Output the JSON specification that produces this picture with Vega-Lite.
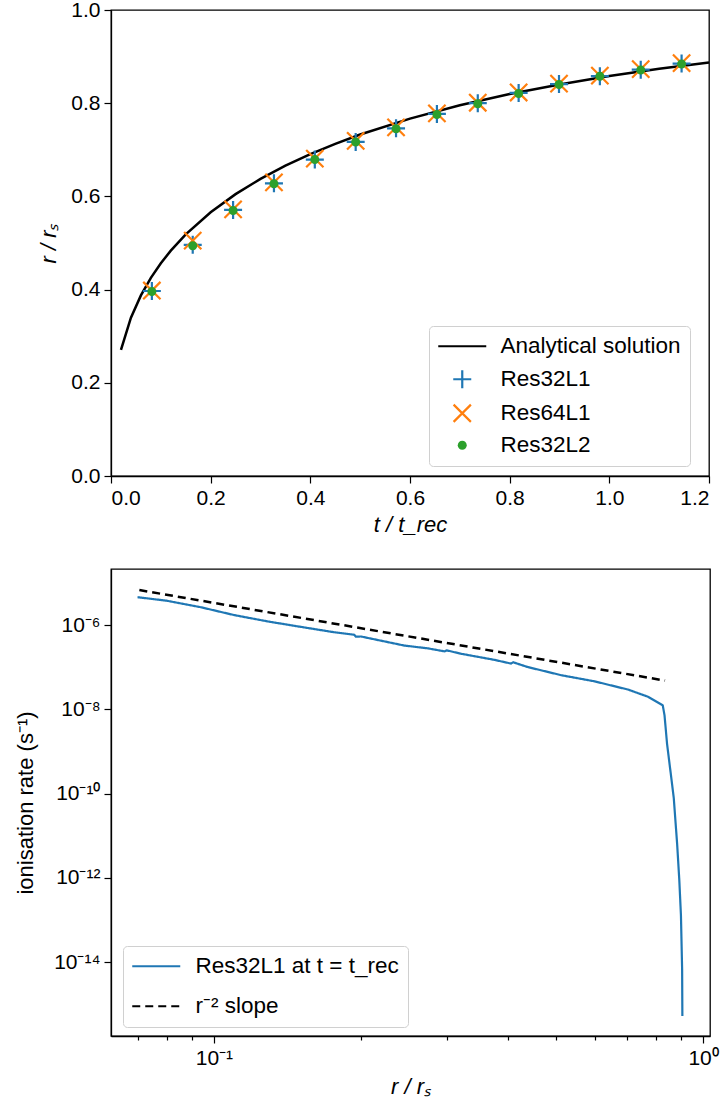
{
  "$schema": "https://vega.github.io/schema/vega-lite/v6.json",
  "padding": {"left": 13, "top": -2, "right": 5, "bottom": 5},
  "background": "white",
  "bounds": "flush",
  "spacing": 93,
  "resolve": {
    "scale": {"stroke": "independent", "strokeDash": "independent", "fill": "independent", "shape": "independent"},
    "legend": {"stroke": "independent", "strokeDash": "independent", "fill": "independent", "shape": "independent"}
  },
  "config": {
    "font": "Liberation Sans",
    "view": {"stroke": "#000000", "strokeWidth": 1.3},
    "axis": {
      "grid": false,
      "domainColor": "#000000",
      "domainWidth": 1.3,
      "tickColor": "#000000",
      "tickWidth": 1.2,
      "tickSize": 7,
      "labelColor": "#000000",
      "labelFont": "Liberation Sans",
      "labelFontSize": 21,
      "labelPadding": 4,
      "titleColor": "#000000",
      "titleFont": "Liberation Sans",
      "titleFontSize": 22,
      "titleFontWeight": "normal"
    },
    "legend": {
      "labelFont": "Liberation Sans",
      "labelFontSize": 22.5,
      "labelColor": "#000000",
      "labelLimit": 400
    }
  },
  "datasets": {
    "analytic": [
      {"t": 0.02, "r": 0.2705, "series": "Analytical solution"},
      {"t": 0.04, "r": 0.3397, "series": "Analytical solution"},
      {"t": 0.06, "r": 0.3876, "series": "Analytical solution"},
      {"t": 0.08, "r": 0.4252, "series": "Analytical solution"},
      {"t": 0.10, "r": 0.4566, "series": "Analytical solution"},
      {"t": 0.12, "r": 0.4836, "series": "Analytical solution"},
      {"t": 0.15, "r": 0.5184, "series": "Analytical solution"},
      {"t": 0.20, "r": 0.5659, "series": "Analytical solution"},
      {"t": 0.25, "r": 0.6048, "series": "Analytical solution"},
      {"t": 0.30, "r": 0.6376, "series": "Analytical solution"},
      {"t": 0.35, "r": 0.6659, "series": "Analytical solution"},
      {"t": 0.40, "r": 0.6908, "series": "Analytical solution"},
      {"t": 0.45, "r": 0.7129, "series": "Analytical solution"},
      {"t": 0.50, "r": 0.7328, "series": "Analytical solution"},
      {"t": 0.60, "r": 0.7670, "series": "Analytical solution"},
      {"t": 0.70, "r": 0.7955, "series": "Analytical solution"},
      {"t": 0.80, "r": 0.8197, "series": "Analytical solution"},
      {"t": 0.90, "r": 0.8403, "series": "Analytical solution"},
      {"t": 1.00, "r": 0.8582, "series": "Analytical solution"},
      {"t": 1.10, "r": 0.8738, "series": "Analytical solution"},
      {"t": 1.20, "r": 0.8875, "series": "Analytical solution"}
    ],
    "sims": [
      {"t": 0.082, "r": 0.397, "series": "Res32L1"},
      {"t": 0.164, "r": 0.496, "series": "Res32L1"},
      {"t": 0.245, "r": 0.571, "series": "Res32L1"},
      {"t": 0.327, "r": 0.628, "series": "Res32L1"},
      {"t": 0.409, "r": 0.679, "series": "Res32L1"},
      {"t": 0.491, "r": 0.717, "series": "Res32L1"},
      {"t": 0.572, "r": 0.746, "series": "Res32L1"},
      {"t": 0.654, "r": 0.777, "series": "Res32L1"},
      {"t": 0.736, "r": 0.800, "series": "Res32L1"},
      {"t": 0.818, "r": 0.822, "series": "Res32L1"},
      {"t": 0.899, "r": 0.841, "series": "Res32L1"},
      {"t": 0.981, "r": 0.858, "series": "Res32L1"},
      {"t": 1.063, "r": 0.872, "series": "Res32L1"},
      {"t": 1.145, "r": 0.885, "series": "Res32L1"},
      {"t": 0.082, "r": 0.398, "series": "Res64L1"},
      {"t": 0.164, "r": 0.505, "series": "Res64L1"},
      {"t": 0.245, "r": 0.572, "series": "Res64L1"},
      {"t": 0.327, "r": 0.630, "series": "Res64L1"},
      {"t": 0.409, "r": 0.681, "series": "Res64L1"},
      {"t": 0.491, "r": 0.719, "series": "Res64L1"},
      {"t": 0.572, "r": 0.748, "series": "Res64L1"},
      {"t": 0.654, "r": 0.778, "series": "Res64L1"},
      {"t": 0.736, "r": 0.801, "series": "Res64L1"},
      {"t": 0.818, "r": 0.823, "series": "Res64L1"},
      {"t": 0.899, "r": 0.842, "series": "Res64L1"},
      {"t": 0.981, "r": 0.859, "series": "Res64L1"},
      {"t": 1.063, "r": 0.873, "series": "Res64L1"},
      {"t": 1.145, "r": 0.886, "series": "Res64L1"},
      {"t": 0.082, "r": 0.396, "series": "Res32L2"},
      {"t": 0.164, "r": 0.494, "series": "Res32L2"},
      {"t": 0.245, "r": 0.570, "series": "Res32L2"},
      {"t": 0.327, "r": 0.627, "series": "Res32L2"},
      {"t": 0.409, "r": 0.679, "series": "Res32L2"},
      {"t": 0.491, "r": 0.717, "series": "Res32L2"},
      {"t": 0.572, "r": 0.745, "series": "Res32L2"},
      {"t": 0.654, "r": 0.776, "series": "Res32L2"},
      {"t": 0.736, "r": 0.799, "series": "Res32L2"},
      {"t": 0.818, "r": 0.821, "series": "Res32L2"},
      {"t": 0.899, "r": 0.840, "series": "Res32L2"},
      {"t": 0.981, "r": 0.858, "series": "Res32L2"},
      {"t": 1.063, "r": 0.871, "series": "Res32L2"},
      {"t": 1.145, "r": 0.884, "series": "Res32L2"}
    ],
    "rate": [
      {"r": 0.0698, "rate": 4.6e-6, "series": "Res32L1 at t = t_rec"},
      {"r": 0.080, "rate": 3.8e-6, "series": "Res32L1 at t = t_rec"},
      {"r": 0.094, "rate": 2.66e-6, "series": "Res32L1 at t = t_rec"},
      {"r": 0.110, "rate": 1.73e-6, "series": "Res32L1 at t = t_rec"},
      {"r": 0.129, "rate": 1.22e-6, "series": "Res32L1 at t = t_rec"},
      {"r": 0.1507, "rate": 9.06e-7, "series": "Res32L1 at t = t_rec"},
      {"r": 0.176, "rate": 6.78e-7, "series": "Res32L1 at t = t_rec"},
      {"r": 0.1936, "rate": 5.9e-7, "series": "Res32L1 at t = t_rec"},
      {"r": 0.1950, "rate": 5.35e-7, "series": "Res32L1 at t = t_rec"},
      {"r": 0.1999, "rate": 5.36e-7, "series": "Res32L1 at t = t_rec"},
      {"r": 0.245, "rate": 3.27e-7, "series": "Res32L1 at t = t_rec"},
      {"r": 0.2735, "rate": 2.81e-7, "series": "Res32L1 at t = t_rec"},
      {"r": 0.296, "rate": 2.38e-7, "series": "Res32L1 at t = t_rec"},
      {"r": 0.299, "rate": 2.52e-7, "series": "Res32L1 at t = t_rec"},
      {"r": 0.320, "rate": 2.09e-7, "series": "Res32L1 at t = t_rec"},
      {"r": 0.374, "rate": 1.50e-7, "series": "Res32L1 at t = t_rec"},
      {"r": 0.405, "rate": 1.22e-7, "series": "Res32L1 at t = t_rec"},
      {"r": 0.409, "rate": 1.31e-7, "series": "Res32L1 at t = t_rec"},
      {"r": 0.438, "rate": 1.01e-7, "series": "Res32L1 at t = t_rec"},
      {"r": 0.513, "rate": 6.46e-8, "series": "Res32L1 at t = t_rec"},
      {"r": 0.600, "rate": 4.62e-8, "series": "Res32L1 at t = t_rec"},
      {"r": 0.702, "rate": 2.95e-8, "series": "Res32L1 at t = t_rec"},
      {"r": 0.771, "rate": 2.0e-8, "series": "Res32L1 at t = t_rec"},
      {"r": 0.827, "rate": 1.245e-8, "series": "Res32L1 at t = t_rec"},
      {"r": 0.834, "rate": 7.2e-9, "series": "Res32L1 at t = t_rec"},
      {"r": 0.844, "rate": 1.5e-9, "series": "Res32L1 at t = t_rec"},
      {"r": 0.853, "rate": 5.6e-10, "series": "Res32L1 at t = t_rec"},
      {"r": 0.871, "rate": 7.9e-11, "series": "Res32L1 at t = t_rec"},
      {"r": 0.885, "rate": 6.3e-12, "series": "Res32L1 at t = t_rec"},
      {"r": 0.894, "rate": 8.9e-13, "series": "Res32L1 at t = t_rec"},
      {"r": 0.901, "rate": 1.26e-13, "series": "Res32L1 at t = t_rec"},
      {"r": 0.906, "rate": 6.6e-15, "series": "Res32L1 at t = t_rec"},
      {"r": 0.907, "rate": 5.2e-16, "series": "Res32L1 at t = t_rec"}
    ],
    "slope": [
      {"r": 0.0704, "rate": 6.8e-6, "series": "r⁻² slope"},
      {"r": 0.836, "rate": 4.82e-8, "series": "r⁻² slope"}
    ]
  },
  "vconcat": [
    {
      "width": 598,
      "height": 466,
      "layer": [
        {
          "data": {"name": "analytic"},
          "mark": {"type": "line", "strokeWidth": 2.5},
          "encoding": {
            "x": {
              "field": "t", "type": "quantitative",
              "scale": {"domain": [0, 1.2], "nice": false, "zero": false},
              "axis": {"values": [0, 0.2, 0.4, 0.6, 0.8, 1.0, 1.2], "format": ".1f", "title": "t / t_rec", "titleFontStyle": "italic", "titlePadding": 6}
            },
            "y": {
              "field": "r", "type": "quantitative",
              "scale": {"domain": [0, 1], "nice": false, "zero": false},
              "axis": {"values": [0, 0.2, 0.4, 0.6, 0.8, 1.0], "format": ".1f", "title": "r / rₛ", "titleFontStyle": "italic", "titlePadding": 10}
            },
            "stroke": {
              "field": "series", "type": "nominal",
              "scale": {"domain": ["Analytical solution", "Res32L1", "Res64L1", "Res32L2"], "range": ["#000000", "#1f77b4", "#ff7f0e", "transparent"]},
              "legend": {
                "title": null, "orient": "none", "legendX": 318, "legendY": 316,
                "padding": 9, "labelOffset": 27, "symbolOffset": 13, "symbolSize": 324, "symbolStrokeWidth": 2.2,
                "rowPadding": 7, "fillColor": "white", "strokeColor": "#d0d0d0", "cornerRadius": 4
              }
            }
          }
        },
        {
          "data": {"name": "sims"},
          "mark": {"type": "point", "size": 324, "strokeWidth": 2.2, "opacity": 1},
          "encoding": {
            "x": {"field": "t", "type": "quantitative"},
            "y": {"field": "r", "type": "quantitative"},
            "stroke": {"field": "series", "type": "nominal"},
            "fill": {
              "field": "series", "type": "nominal",
              "scale": {"domain": ["Analytical solution", "Res32L1", "Res64L1", "Res32L2"], "range": ["transparent", "transparent", "transparent", "#2ca02c"]},
              "legend": {
                "title": null, "orient": "none", "legendX": 318, "legendY": 316,
                "padding": 9, "labelOffset": 27, "symbolOffset": 13, "symbolSize": 324, "symbolStrokeWidth": 2.2,
                "rowPadding": 7, "fillColor": "white", "strokeColor": "#d0d0d0", "cornerRadius": 4
              }
            },
            "shape": {
              "field": "series", "type": "nominal",
              "scale": {
                "domain": ["Analytical solution", "Res32L1", "Res64L1", "Res32L2"],
                "range": [
                  "M-2.667,0H2.667",
                  "M-1,0H1M0,-1V1",
                  "M-0.96,-0.96L0.96,0.96M-0.96,0.96L0.96,-0.96",
                  "M-0.5,0A0.5,0.5 0 1,0 0.5,0A0.5,0.5 0 1,0 -0.5,0Z"
                ]
              },
              "legend": {
                "title": null, "orient": "none", "legendX": 318, "legendY": 316,
                "padding": 9, "labelOffset": 27, "symbolOffset": 13, "symbolSize": 324, "symbolStrokeWidth": 2.2,
                "rowPadding": 7, "fillColor": "white", "strokeColor": "#d0d0d0", "cornerRadius": 4
              }
            }
          }
        }
      ]
    },
    {
      "width": 599,
      "height": 467,
      "resolve": {"axis": {"x": "independent"}},
      "layer": [
        {
          "data": {"name": "rate"},
          "mark": {"type": "line", "strokeWidth": 2.2},
          "encoding": {
            "x": {
              "field": "r", "type": "quantitative",
              "scale": {"type": "log", "domain": [0.0616, 1.033], "nice": false},
              "axis": {
                "orient": "bottom",
                "values": [0.1, 1],
                "labelExpr": "'10' + replace(replace(replace(replace(replace(replace(replace('' + round(log(datum.value)/LN10), '-', '⁻'), '0', '⁰'), '1', '¹'), '2', '²'), '4', '⁴'), '6', '⁶'), '8', '⁸')",
                "title": "r / rₛ", "titleFontStyle": "italic", "titlePadding": 8
              }
            },
            "y": {
              "field": "rate", "type": "quantitative",
              "scale": {"type": "log", "domain": [1.75e-16, 2.15e-5], "nice": false},
              "axis": {
                "values": [1e-14, 1e-12, 1e-10, 1e-8, 1e-6],
                "labelExpr": "'10' + replace(replace(replace(replace(replace(replace(replace('' + round(log(datum.value)/LN10), '-', '⁻'), '0', '⁰'), '1', '¹'), '2', '²'), '4', '⁴'), '6', '⁶'), '8', '⁸')",
                "title": "ionisation rate (s⁻¹)", "titlePadding": 16
              }
            },
            "stroke": {
              "field": "series", "type": "nominal",
              "scale": {"domain": ["Res32L1 at t = t_rec", "r⁻² slope"], "range": ["#1f77b4", "#000000"]},
              "legend": {
                "title": null, "orient": "none", "legendX": 12, "legendY": 377,
                "padding": 9, "labelOffset": 28, "symbolOffset": 13, "symbolSize": 324, "symbolType": "M-2.667,0H2.667", "symbolStrokeWidth": 2.2,
                "rowPadding": 17, "fillColor": "white", "strokeColor": "#d0d0d0", "cornerRadius": 4
              }
            },
            "strokeDash": {
              "field": "series", "type": "nominal",
              "scale": {"domain": ["Res32L1 at t = t_rec", "r⁻² slope"], "range": [[1, 0], [8, 5]]},
              "legend": {
                "title": null, "orient": "none", "legendX": 12, "legendY": 377,
                "padding": 9, "labelOffset": 28, "symbolOffset": 13, "symbolSize": 324, "symbolType": "M-2.667,0H2.667", "symbolStrokeWidth": 2.2,
                "rowPadding": 17, "fillColor": "white", "strokeColor": "#d0d0d0", "cornerRadius": 4
              }
            }
          }
        },
        {
          "data": {"name": "slope"},
          "mark": {"type": "line", "strokeWidth": 2.5},
          "encoding": {
            "x": {
              "field": "r", "type": "quantitative",
              "axis": {
                "orient": "bottom",
                "values": [0.07, 0.08, 0.09, 0.2, 0.3, 0.4, 0.5, 0.6, 0.7, 0.8, 0.9],
                "labels": false, "tickSize": 4, "domain": false, "title": null
              }
            },
            "y": {"field": "rate", "type": "quantitative"},
            "stroke": {"field": "series", "type": "nominal"},
            "strokeDash": {"field": "series", "type": "nominal"}
          }
        }
      ]
    }
  ]
}
